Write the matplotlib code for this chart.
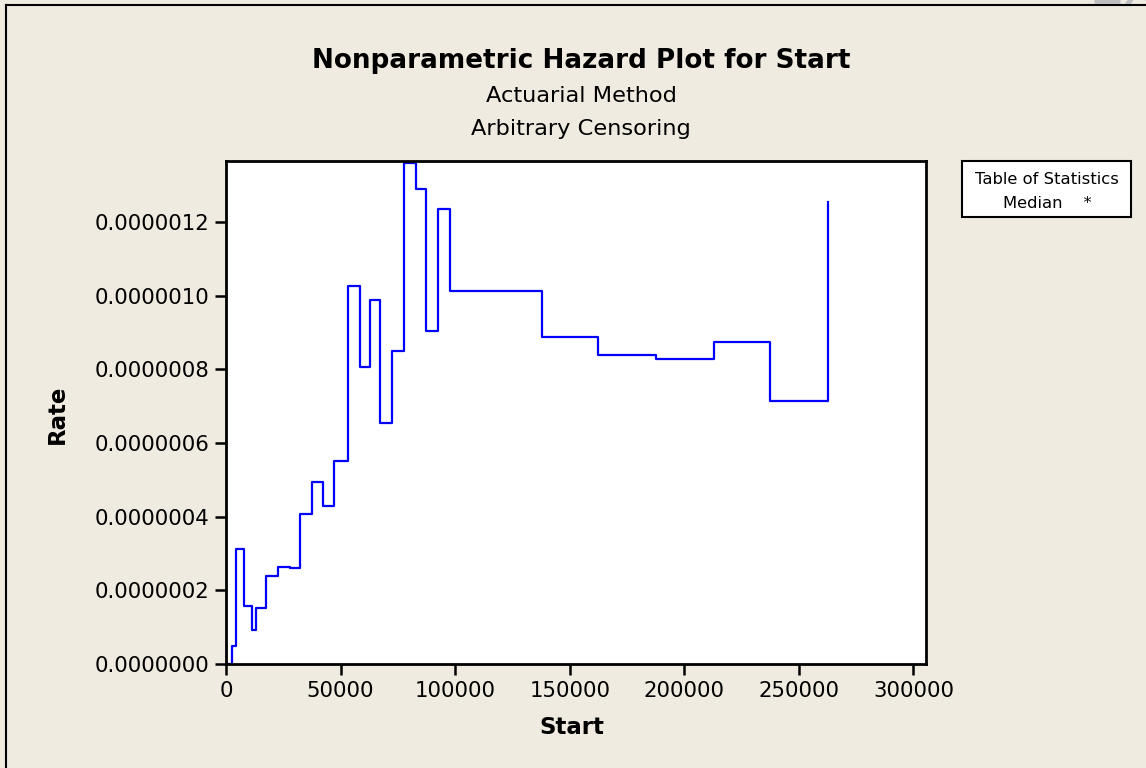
import matplotlib
matplotlib.use("Agg")
import matplotlib.pyplot as plt
from matplotlib.lines import Line2D
from matplotlib.patches import Rectangle

# interval start points of the actuarial table and the hazard rate in each interval
starts = [0, 2490, 4370, 7860, 11350, 12960, 17330, 22700, 27940, 32170,
          37540, 42340, 47140, 53250, 58490, 62860, 67220, 72460, 77700,
          82940, 87300, 92410, 97650, 137800, 162380, 187700, 213010,
          237460, 262770]
rates = [0.0, 4.83e-8, 3.13e-7, 1.57e-7, 9.1e-8, 1.51e-7, 2.38e-7, 2.64e-7,
         2.60e-7, 4.06e-7, 4.95e-7, 4.30e-7, 5.52e-7, 1.025e-6, 8.07e-7,
         9.87e-7, 6.55e-7, 8.50e-7, 1.361e-6, 1.290e-6, 9.04e-7, 1.236e-6,
         1.013e-6, 8.88e-7, 8.39e-7, 8.29e-7, 8.73e-7, 7.15e-7, 1.254e-6]

x_ticks = [0, 50000, 100000, 150000, 200000, 250000, 300000]
y_ticks = [0.0, 2e-7, 4e-7, 6e-7, 8e-7, 1.0e-6, 1.2e-6]

bg = "#efebe1"
W, H = 1146, 768

fig = plt.figure(figsize=(W / 100, H / 100), dpi=100, facecolor=bg)
ax = fig.add_axes([226 / W, 1 - 664 / H, 700 / W, 503 / H])
ax.set_facecolor("white")

ax.plot(starts, rates, drawstyle="steps-post", color="#0000ff", lw=1.6)

ax.set_xlim(0, 305500)
ax.set_ylim(0, 1.3654e-6)
ax.set_xticks(x_ticks)
ax.set_xticklabels([str(t) for t in x_ticks])
ax.set_yticks(y_ticks)
ax.set_yticklabels([f"{t:.7f}" for t in y_ticks])
ax.tick_params(length=8, width=1.8, labelsize=15.3, pad=4)
for s in ax.spines.values():
    s.set_linewidth(2)

ax.set_xlabel("Start", fontsize=16.5, fontweight="bold")
ax.set_ylabel("Rate", fontsize=16.5, fontweight="bold")
ax.xaxis.set_label_coords(0.494, (664 - 728) / 503)
ax.yaxis.set_label_coords((57 - 226) / 700, (664 - 414) / 503)
ax.xaxis.label.set_va("center")
ax.yaxis.label.set_va("center")

fig.text(581 / W, 1 - 61 / H, "Nonparametric Hazard Plot for Start",
         ha="center", va="center", fontsize=18.9, fontweight="bold")
fig.text(581 / W, 1 - 96 / H, "Actuarial Method", ha="center", va="center",
         fontsize=16.2)
fig.text(581 / W, 1 - 129 / H, "Arbitrary Censoring", ha="center", va="center",
         fontsize=16.2)

# statistics box
fig.patches.append(Rectangle((962 / W, 1 - 217 / H), 169 / W, 56 / H,
                             transform=fig.transFigure, facecolor="white",
                             edgecolor="black", lw=1.5))
fig.text(1047 / W, 1 - 180 / H, "Table of Statistics", ha="center",
         va="center", fontsize=11.8)
fig.text(1047 / W, 1 - 203 / H, "Median    *", ha="center", va="center",
         fontsize=11.8)

# outer frame lines (left and top)
fig.add_artist(Line2D([6 / W, 6 / W], [0, 1 - 5 / H], color="black", lw=1.5,
                      transform=fig.transFigure))
fig.add_artist(Line2D([6 / W, 1], [1 - 5 / H, 1 - 5 / H], color="black",
                      lw=1.5, transform=fig.transFigure))

# faint watermark cut off at the top edge
fig.text(1088 / W, 1 - 4 / H, "Exam", ha="left", va="baseline",
         fontsize=40, color="#bdbdbd")

fig.savefig("out.png", dpi=100, facecolor=bg)
